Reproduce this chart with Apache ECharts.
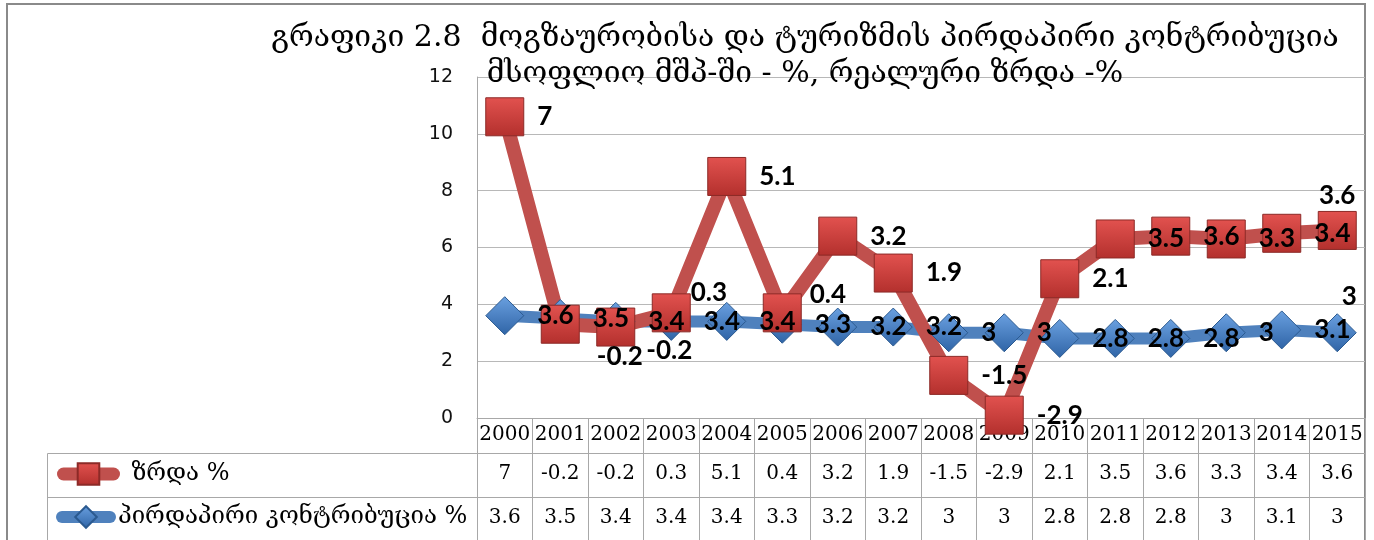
<!DOCTYPE html>
<html>
<head>
<meta charset="utf-8">
<script src="https://cdn.jsdelivr.net/npm/echarts@6/dist/echarts.min.js"></script>
<style>
  html, body { margin: 0; padding: 0; background: #fff; }
  #chart { width: 1374px; height: 540px; }
</style>
</head>
<body>
<div id="chart"></div>
<script>
const years = ['2000', '2001', '2002', '2003', '2004', '2005', '2006', '2007',
  '2008', '2009', '2010', '2011', '2012', '2013', '2014', '2015'];
// ზრდა % (stacked on top of the contribution line, as in the original chart)
const growth = [7, -0.2, -0.2, 0.3, 5.1, 0.4, 3.2, 1.9, -1.5, -2.9, 2.1, 3.5, 3.6, 3.3, 3.4, 3.6];
// პირდაპირი კონტრიბუცია %
const contribution = [3.6, 3.5, 3.4, 3.4, 3.4, 3.3, 3.2, 3.2, 3, 3, 2.8, 2.8, 2.8, 3, 3.1, 3];
const yMin = 0, yMax = 12, yStep = 2;

const growthName = 'ზრდა %';
const contribName = 'პირდაპირი კონტრიბუცია %';
const titleText = 'გრაფიკი 2.8  მოგზაურობისა და ტურიზმის პირდაპირი კონტრიბუცია\nმსოფლიო მშპ-ში - %, რეალური ზრდა -%';

const geo = '"DejaVu Serif", "DejaVu Sans", serif';
const tableFont = '"DejaVu Serif", "Liberation Serif", serif';
const gridColor = '#a8a8a8';

// label nudges (Excel moved a few of them by hand)
const redLabelFix = {
  1: { offset: [4, 32] },
  2: { offset: [-2, 24] },
  3: { offset: [-13, -20] },
  5: { offset: [-5, -18] },
  15: { position: 'top', distance: 2 }
};
const blueLabelFix = {
  15: { position: 'top', distance: 4, offset: [12, 0] }
};

const chart = echarts.init(document.getElementById('chart'));

const labelStyle = {
  show: true,
  position: 'right',
  distance: 13,
  color: '#000',
  fontFamily: 'Lato, "Liberation Sans", sans-serif',
  fontWeight: 'bold',
  fontSize: 26
};

function tableAxis(values, offset) {
  return {
    type: 'category',
    data: years,
    position: 'bottom',
    offset: offset,
    axisLine: { lineStyle: { color: gridColor } },
    axisTick: { show: false },
    axisLabel: {
      interval: 0,
      margin: 11,
      color: '#000',
      fontFamily: tableFont,
      fontSize: 20,
      formatter: (v, i) => String(values[i])
    }
  };
}

chart.setOption({
  animation: false,
  title: {
    text: titleText,
    left: 800,
    top: 15,
    textAlign: 'center',
    textStyle: {
      fontFamily: geo,
      fontSize: 30,
      fontWeight: 'normal',
      color: '#000',
      lineHeight: 36
    }
  },
  legend: [
    {
      data: [growthName],
      left: 52,
      top: 457,
      selectedMode: false,
      itemWidth: 50,
      itemHeight: 27,
      lineStyle: { width: 13, cap: 'round' },
      textStyle: { fontFamily: geo, fontSize: 24, color: '#000', padding: [0, 0, 0, 13] }
    },
    {
      data: [contribName],
      left: 51,
      top: 500,
      selectedMode: false,
      itemWidth: 48,
      itemHeight: 27,
      lineStyle: { width: 12, cap: 'round' },
      textStyle: { fontFamily: geo, fontSize: 24, color: '#000', padding: [0, 0, 0, 3] }
    }
  ],
  grid: { left: 477, right: 9, top: 77, bottom: 122 },
  xAxis: [
    {
      type: 'category',
      data: years,
      boundaryGap: true,
      axisLine: { lineStyle: { color: gridColor } },
      axisTick: { show: true, length: 122, lineStyle: { color: gridColor } },
      axisLabel: { interval: 0, margin: 7, color: '#000', fontFamily: tableFont, fontSize: 20 }
    },
    tableAxis(growth, 35),
    tableAxis(contribution, 79)
  ],
  yAxis: {
    type: 'value',
    min: yMin,
    max: yMax,
    interval: yStep,
    axisLine: { show: true, lineStyle: { color: gridColor } },
    axisTick: { show: false },
    splitLine: { lineStyle: { color: '#b8b8b8' } },
    axisLabel: { margin: 24, color: '#111', fontFamily: '"DejaVu Sans", sans-serif', fontSize: 19 }
  },
  graphic: [
    { type: 'rect', shape: { x: 7, y: 4, width: 1358, height: 560 }, style: { fill: 'none', stroke: '#8a8a8a', lineWidth: 2 } },
    { type: 'line', shape: { x1: 47.5, y1: 453.5, x2: 477, y2: 453.5 }, style: { stroke: gridColor, lineWidth: 1 } },
    { type: 'line', shape: { x1: 47.5, y1: 497.5, x2: 477, y2: 497.5 }, style: { stroke: gridColor, lineWidth: 1 } },
    { type: 'line', shape: { x1: 47.5, y1: 453.5, x2: 47.5, y2: 540 }, style: { stroke: gridColor, lineWidth: 1 } }
  ],
  series: [
    {
      name: contribName,
      type: 'line',
      stack: 'sum',
      stackStrategy: 'all',
      symbol: 'diamond',
      symbolSize: 38,
      lineStyle: { color: '#4F81BD', width: 12 },
      itemStyle: {
        color: {
          type: 'linear', x: 0, y: 0, x2: 0, y2: 1,
          colorStops: [{ offset: 0, color: '#6aa0e0' }, { offset: 1, color: '#2f64a6' }]
        },
        borderColor: '#2b5a90',
        borderWidth: 1
      },
      label: labelStyle,
      emphasis: { disabled: true },
      data: contribution.map((v, i) => blueLabelFix[i] ? { value: v, label: blueLabelFix[i] } : v)
    },
    {
      name: growthName,
      type: 'line',
      stack: 'sum',
      stackStrategy: 'all',
      symbol: 'rect',
      symbolSize: 38,
      lineStyle: { color: '#C0504D', width: 14 },
      itemStyle: {
        color: {
          type: 'linear', x: 0, y: 0, x2: 0, y2: 1,
          colorStops: [{ offset: 0, color: '#e2524f' }, { offset: 1, color: '#b3302d' }]
        },
        borderColor: '#8c2a27',
        borderWidth: 1
      },
      label: labelStyle,
      emphasis: { disabled: true },
      data: growth.map((v, i) => redLabelFix[i] ? { value: v, label: redLabelFix[i] } : v)
    }
  ]
});
</script>
</body>
</html>
